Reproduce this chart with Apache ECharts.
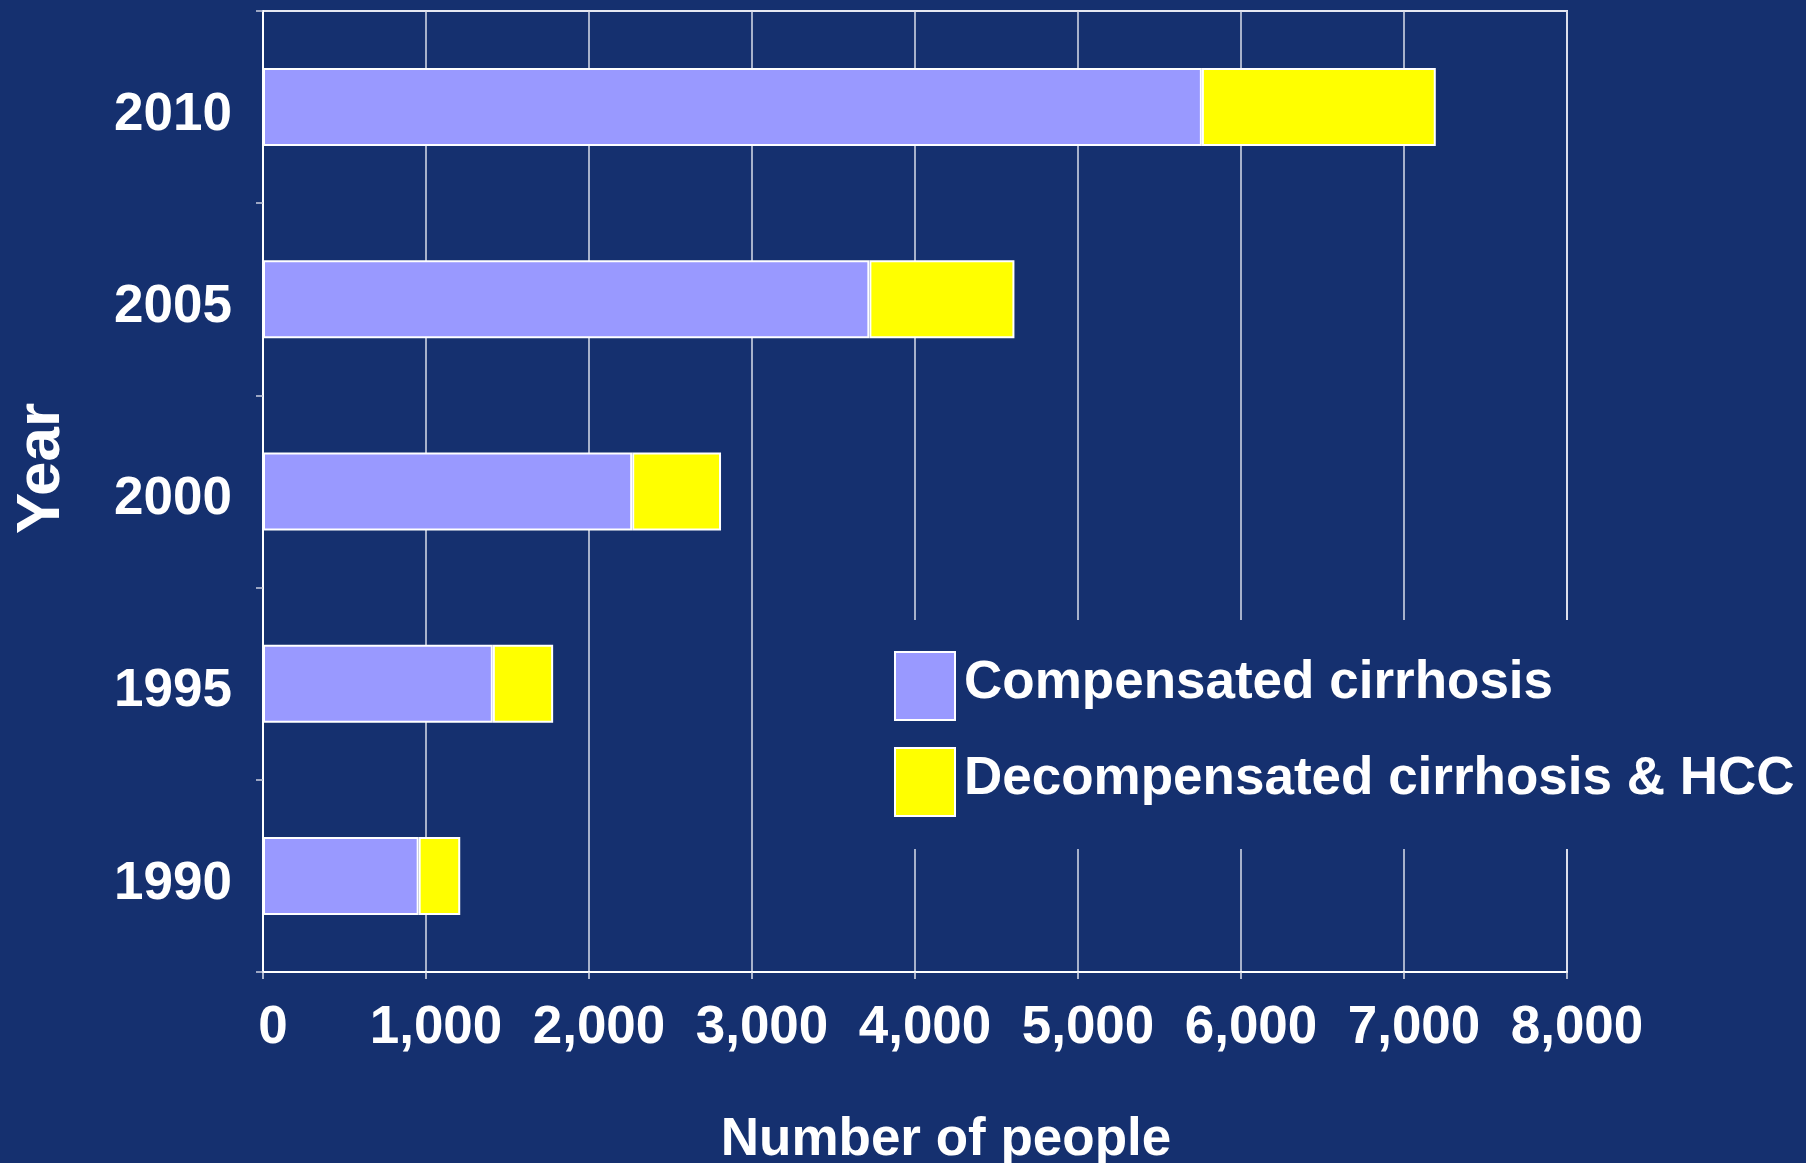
<!DOCTYPE html>
<html>
<head>
    <meta charset="utf-8" />
    <script type="text/javascript" src="https://cdn.jsdelivr.net/npm/echarts@6/dist/echarts.min.js"></script>
    <title>Cirrhosis</title>
    <style>
        html, body { margin: 0; padding: 0; background: #15306f; }
        #main { width: 1806px; height: 1163px; }
    </style>
</head>
<body>
    <div id="main"></div>
    <script type="text/javascript">
    // data
    var years = ['1990', '1995', '2000', '2005', '2010'];
    var compensated = [955, 1410, 2265, 3720, 5760];
    var decompensated = [255, 370, 545, 890, 1435];
    var seriesNames = ['Compensated cirrhosis', 'Decompensated cirrhosis & HCC'];
    var xTicks = [0, 1000, 2000, 3000, 4000, 5000, 6000, 7000, 8000];

    var bg = '#15306f';
    var font = "'Liberation Sans', Arial, sans-serif";
    var myChart = echarts.init(document.getElementById('main'));

    var option = {
        backgroundColor: bg,
        animation: false,
        grid: {
            left: 263, right: 239, top: 11, bottom: 191,
            containLabel: false,
            outerBoundsMode: 'none',
            show: true,
            borderColor: '#e6e8f2',
            borderWidth: 2
        },
        legend: {
            orient: 'vertical',
            left: 880,
            top: 620,
            padding: [31, 10, 32, 14],
            backgroundColor: bg, // hides the gridlines behind it, like the original
            itemWidth: 60,
            itemHeight: 68,
            itemGap: 26,
            icon: 'rect',
            itemStyle: { borderColor: '#ffffff', borderWidth: 2 },
            formatter: function (name) { return '{t|' + name + '}'; },
            textStyle: {
                color: '#ffffff', fontSize: 53, fontWeight: 'bold', fontFamily: font,
                rich: { t: { color: '#ffffff', fontSize: 53, fontWeight: 'bold', fontFamily: font, padding: [0, 0, 6, 4] } }
            },
            data: seriesNames
        },
        xAxis: {
            type: 'value',
            min: xTicks[0],
            max: xTicks[xTicks.length - 1],
            interval: 1000,
            name: 'Number of people',
            nameLocation: 'middle',
            nameGap: 142,
            nameTextStyle: { color: '#ffffff', fontSize: 53, fontWeight: 'bold', fontFamily: font, padding: [0, 0, 0, 62] },
            axisLine: { show: true, lineStyle: { color: '#ffffff', width: 2 } },
            axisTick: { show: true, length: 7, lineStyle: { color: '#dfe2ee', width: 1.5 } },
            axisLabel: {
                margin: 30,
                color: '#ffffff', fontSize: 53, fontWeight: 'bold', fontFamily: font,
                padding: [0, 0, 0, 20],
                formatter: function (v) { return v.toLocaleString('en-US'); }
            },
            splitLine: { show: true, lineStyle: { color: '#d9dcea', width: 1.5 } }
        },
        yAxis: {
            type: 'category',
            data: years,
            name: 'Year',
            nameLocation: 'middle',
            nameRotate: 90,
            nameGap: 190,
            nameTextStyle: { color: '#ffffff', fontSize: 62, fontWeight: 'bold', fontFamily: font, padding: [0, 0, 0, 46] },
            axisLine: { show: true, lineStyle: { color: '#ffffff', width: 2 } },
            axisTick: { show: true, length: 7, lineStyle: { color: '#c9cde0', width: 1.5 } },
            axisLabel: {
                margin: 31, color: '#ffffff', fontSize: 53, fontWeight: 'bold', fontFamily: font,
                formatter: function (v) { return '{y|' + v + '}'; },
                rich: { y: { color: '#ffffff', fontSize: 53, fontWeight: 'bold', fontFamily: font, padding: [16, 0, 0, 0] } }
            },
            splitLine: { show: false }
        },
        series: [{
            name: seriesNames[0],
            type: 'bar',
            stack: 'total',
            barWidth: 78,
            data: compensated,
            itemStyle: { color: '#9999ff', borderColor: '#ffffff', borderWidth: 2 }
        }, {
            name: seriesNames[1],
            type: 'bar',
            stack: 'total',
            barWidth: 78,
            data: decompensated,
            itemStyle: { color: '#ffff00', borderColor: '#ffffff', borderWidth: 2 }
        }]
    };
    myChart.setOption(option);
    </script>
</body>
</html>
